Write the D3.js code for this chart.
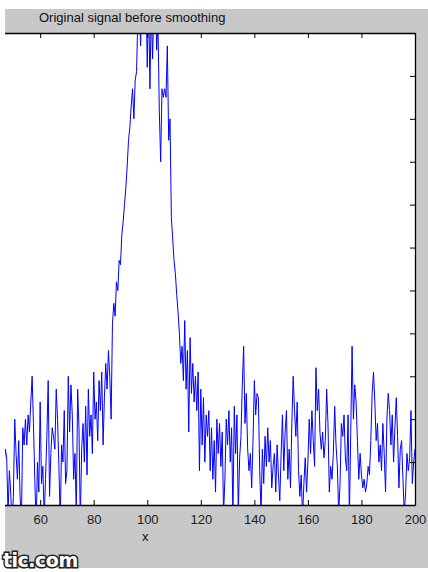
<!DOCTYPE html>
<html>
<head>
<meta charset="utf-8">
<script src="https://cdn.jsdelivr.net/npm/d3@7"></script>
<style>
  html, body { margin: 0; padding: 0; background: #ffffff; }
  svg { display: block; }
</style>
</head>
<body>
<script>
// signal, x = 45 .. 200 in steps of 0.5
var xStart = 45
var xStep = 0.5
var signal = [
  0.10, 0.19, 0.04, 0.09, 0.13, 0.11, -0.02, 0.08, 0.03, -0.05,
  0.02, 0.20, 0.12, 0.06, 0.15, 0.02, -0.04, 0.18, 0.14, 0.20,
  0.14, 0.21, 0.17, 0.24, 0.30, 0.19, 0.06, -0.05, 0.10, 0.03,
  0.24, 0.05, 0.09, -0.03, 0.06, 0.16, 0.29, 0.02, 0.12, 0.18,
  0.16, 0.13, 0.27, 0.20, 0.09, -0.04, 0.14, 0.10, 0.22, 0.05,
  0.08, 0.30, 0.17, 0.28, 0.21, 0.06, 0.12, -0.02, 0.27, 0.18,
  -0.04, 0.13, 0.19, 0.10, 0.23, 0.07, 0.27, 0.16, 0.21, 0.12,
  0.31, 0.20, 0.24, 0.15, 0.29, 0.22, 0.31, 0.14, 0.25, 0.33,
  0.27, 0.36, 0.30, 0.20, 0.42, 0.47, 0.44, 0.52, 0.50, 0.57,
  0.56, 0.63, 0.66, 0.70, 0.74, 0.79, 0.85, 0.88, 0.93, 0.97,
  0.90, 0.99, 1.01, 1.14, 1.20, 1.07, 1.18, 1.25, 1.15, 1.22,
  1.02, 1.20, 0.97, 1.16, 1.04, 1.18, 1.23, 1.06, 1.12, 0.92,
  0.80, 0.97, 0.95, 0.97, 0.95, 1.07, 0.85, 0.90, 0.67, 0.62,
  0.57, 0.54, 0.49, 0.45, 0.40, 0.33, 0.37, 0.29, 0.43, 0.27,
  0.36, 0.17, 0.39, 0.26, 0.33, 0.24, 0.30, 0.22, 0.31, 0.08,
  0.27, 0.14, 0.25, 0.10, 0.21, 0.16, 0.22, 0.08, 0.18, 0.06,
  0.15, 0.03, 0.20, 0.12, 0.19, 0.09, 0.17, -0.02, 0.06, 0.20,
  0.14, 0.22, 0.10, 0.18, -0.03, 0.23, 0.12, 0.21, -0.02, 0.11,
  0.16, 0.28, 0.37, 0.19, 0.26, 0.13, 0.08, 0.12, 0.04, 0.15,
  0.29, 0.21, 0.26, 0.25, 0.08, -0.02, 0.13, 0.05, 0.16, 0.09,
  0.18, 0.10, 0.15, 0.04, 0.09, 0.12, 0.03, 0.14, 0.07, 0.01,
  0.12, 0.21, 0.08, 0.17, 0.22, 0.06, 0.13, 0.04, 0.19, 0.30,
  0.22, 0.16, 0.24, 0.08, 0.02, 0.07, -0.03, 0.05, 0.11, 0.03,
  0.10, 0.20, 0.12, 0.22, 0.15, 0.09, 0.32, 0.22, 0.27, 0.17,
  0.13, 0.17, 0.11, 0.15, 0.27, 0.19, 0.03, 0.09, 0.06, 0.12,
  0.23, 0.14, 0.09, -0.02, 0.05, 0.19, 0.16, 0.21, 0.11, 0.08,
  0.21, -0.03, 0.17, 0.37, 0.20, 0.28, 0.24, 0.15, 0.06, 0.12,
  0.07, 0.04, 0.06, 0.03, 0.05, 0.09, 0.07, 0.15, 0.26, 0.31,
  0.24, 0.15, 0.19, 0.10, 0.14, 0.08, 0.19, 0.12, 0.03, 0.20,
  0.26, 0.22, 0.14, 0.21, 0.10, 0.18, 0.25, 0.16, 0.04, 0.13,
  0.15, 0.06, -0.02, 0.03, 0.12, 0.08, 0.11, 0.22, 0.05, 0.10,
  0.13
]
var xTicks = [60, 80, 100, 120, 140, 160, 180, 200]
var yTicks = [0, 0.1, 0.2, 0.3, 0.4, 0.5, 0.6, 0.7, 0.8, 0.9, 1.0, 1.1]
var title = "Original signal before smoothing"
var xLabel = "x"
var watermark = "tic.com"

var w = 428
var h = 572
// the figure is cropped: grey panel starts a few px in, axes' left edge is off the picture
var fig = {left: 5, top: 9, right: 428, bottom: 568}
var plot = {top: 33, right: 415, bottom: 505}

var dataset = signal.map((v, i) => ({x: xStart + i * xStep, y: v}))

// Scales
var xScale = d3.scaleLinear()
  .domain([45, 200])
  .range([0, plot.right])

var yScale = d3.scaleLinear()
  .domain([0, 1.1])
  .range([plot.bottom, plot.top])

var svg = d3.select("body")
  .append("svg")
  .attr("width", w)
  .attr("height", h)

var defs = svg.append("defs")
defs.append("clipPath").attr("id", "figclip")
  .append("rect")
  .attr("x", fig.left).attr("y", fig.top)
  .attr("width", fig.right - fig.left).attr("height", fig.bottom - fig.top)
defs.append("clipPath").attr("id", "plotclip")
  .append("rect")
  .attr("x", fig.left).attr("y", plot.top)
  .attr("width", plot.right - fig.left).attr("height", plot.bottom - plot.top)

var figure = svg.append("g").attr("clip-path", "url(#figclip)")

figure.append("rect")
  .attr("x", fig.left).attr("y", fig.top)
  .attr("width", fig.right - fig.left).attr("height", fig.bottom - fig.top)
  .attr("fill", "#c8c8c8")

figure.append("rect")
  .attr("x", xScale(45) - 10).attr("y", plot.top)
  .attr("width", plot.right - xScale(45) + 10).attr("height", plot.bottom - plot.top)
  .attr("fill", "#ffffff")

// signal
var line = d3.line()
  .x((d) => xScale(d.x))
  .y((d) => yScale(d.y))

figure.append("g")
  .attr("clip-path", "url(#plotclip)")
  .append("path")
  .datum(dataset)
  .attr("fill", "none")
  .attr("stroke", "#0000ff")
  .attr("stroke-width", 1)
  .attr("stroke-linejoin", "miter")
  .attr("d", line)

// Axes (matlab style: ticks inside, box on)
var tickLen = 5
var xAxisBottom = d3.axisBottom(xScale).tickValues(xTicks).tickSizeInner(-tickLen).tickSizeOuter(0).tickPadding(10)
var xAxisTop = d3.axisTop(xScale).tickValues(xTicks).tickSizeInner(-tickLen).tickSizeOuter(0).tickFormat("")
var yAxisRight = d3.axisRight(yScale).tickValues(yTicks).tickSizeInner(-tickLen).tickSizeOuter(0).tickFormat("")

var gx = figure.append("g")
  .attr("class", "x axis")
  .attr("transform", "translate(0," + plot.bottom + ")")
  .call(xAxisBottom)

gx.selectAll("text")
  .attr("font-family", "Liberation Sans, Arial, sans-serif")
  .attr("font-size", 13)
  .attr("fill", "#1a1a1a")

figure.append("g")
  .attr("class", "x axis top")
  .attr("transform", "translate(0," + plot.top + ")")
  .call(xAxisTop)

figure.append("g")
  .attr("class", "y axis")
  .attr("transform", "translate(" + plot.right + ",0)")
  .call(yAxisRight)

figure.selectAll(".axis path.domain").attr("stroke", "#000").attr("stroke-width", 1.3)
figure.selectAll(".axis .tick line").attr("stroke", "#000")

// title and x label
figure.append("text")
  .attr("x", 39)
  .attr("y", 22)
  .attr("font-family", "Liberation Sans, Arial, sans-serif")
  .attr("font-size", 13)
  .attr("fill", "#111")
  .text(title)

figure.append("text")
  .attr("x", xScale(100) - 2)
  .attr("y", 541)
  .attr("text-anchor", "middle")
  .attr("font-family", "Liberation Sans, Arial, sans-serif")
  .attr("font-size", 13)
  .attr("fill", "#111")
  .text(xLabel)

// watermark at the crop edge
svg.append("text")
  .attr("x", 3)
  .attr("y", 567)
  .attr("font-family", "DejaVu Sans, sans-serif")
  .attr("font-weight", "bold")
  .attr("font-size", 19)
  .attr("fill", "#ffffff")
  .attr("stroke", "#222")
  .attr("stroke-width", 3)
  .attr("paint-order", "stroke")
  .attr("letter-spacing", -0.5)
  .text(watermark)
</script>
</body>
</html>
